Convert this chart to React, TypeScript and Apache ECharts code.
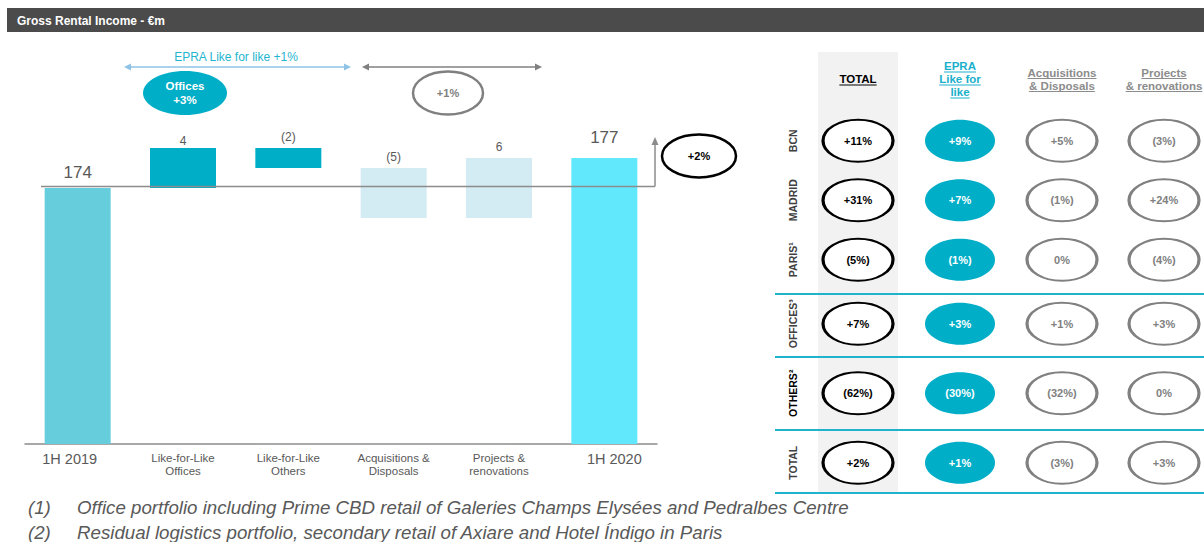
import React, { useEffect, useRef } from 'react';
import * as echarts from 'echarts';

const FONT = '"Liberation Sans", Arial, Helvetica, sans-serif';

// ---------- Waterfall data (€m) ----------
const categories = [
  '1H 2019',
  'Like-for-Like\nOffices',
  'Like-for-Like\nOthers',
  'Acquisitions &\nDisposals',
  'Projects &\nrenovations',
  '1H 2020',
];
const totals: (number | null)[] = [174, null, null, null, null, 177];
const changes: (number | null)[] = [null, 4, -2, -5, 6, null];

// ---------- Annotations ----------
const epraLflText = 'EPRA Like for like +1%';
const officesLflGrowth = 3;
const nonLflGrowth = 1;
const totalChangePct = 2;

// ---------- Table data (%) ----------
const tableColumns = ['TOTAL', 'EPRA\nLike for\nlike', 'Acquisitions\n& Disposals', 'Projects\n& renovations'];
const cityRows = ['BCN', 'MADRID', 'PARIS¹'];
const summaryRows = ['OFFICES³', 'OTHERS²', 'TOTAL'];
const totalGrowth = [11, 31, -5, 7, -62, 2];
const epraGrowth = [9, 7, -1, 3, -30, 1];
const acqGrowth = [5, -1, 0, 1, -32, -3];
const projGrowth = [-3, 24, -4, 3, 0, 3];

const footnotes = [
  ['(1)', 'Office portfolio including Prime CBD retail of Galeries Champs Elysées and Pedralbes Centre'],
  ['(2)', 'Residual logistics portfolio, secondary retail of Axiare and Hotel Índigo in Paris'],
];

// ---------- helpers ----------
const fmtPct = (v: number) => (v > 0 ? `+${v}%` : v < 0 ? `(${-v}%)` : '0%');
const fmtDelta = (v: number) => (v < 0 ? `(${-v})` : `${v}`);
const ELLIPSE =
  'path://M0,50 C0,22.4 22.4,0 50,0 C77.6,0 100,22.4 100,50 C100,77.6 77.6,100 50,100 C22.4,100 0,77.6 0,50 Z';

const totalColors = ['#66cddc', '', '', '', '', '#62e8fd'];
const totalLabelGap = [7, 0, 0, 0, 0, 12];
const deltaColors = ['', '#00aec7', '#00aec7', '#d3ebf2', '#d3ebf2', ''];
const headerColors = ['#000000', '#1ab0cc', '#8c8c8c', '#8c8c8c'];
const colStyles = [
  { fill: '#ffffff', stroke: '#000000', text: '#000000', w: 70, h: 42, bw: 2.5 },
  { fill: '#00aec7', stroke: '#00aec7', text: '#ffffff', w: 70, h: 42, bw: 0 },
  { fill: '#ffffff', stroke: '#808080', text: '#808080', w: 70, h: 42, bw: 2.5 },
  { fill: '#ffffff', stroke: '#808080', text: '#808080', w: 70, h: 42, bw: 2.5 },
];

function buildOption() {
  const base: any[] = [];
  const delta: any[] = [];
  const tot: any[] = [];
  let running = 0;
  categories.forEach((_, i) => {
    const t = totals[i];
    if (t != null) {
      running = t;
      base.push('-');
      delta.push('-');
      tot.push({ value: t, itemStyle: { color: totalColors[i] }, label: { distance: totalLabelGap[i] } });
    } else {
      const c = changes[i] as number;
      const start = running;
      running += c;
      base.push(Math.min(start, running));
      delta.push({
        value: Math.abs(c),
        itemStyle: { color: deltaColors[i] },
        label: i === 1 ? { distance: 1 } : undefined,
      });
      tot.push('-');
    }
  });

  const tableSeries: any[] = [];
  const colsData = [totalGrowth, epraGrowth, acqGrowth, projGrowth];
  [0, 1].forEach((g) => {
    const off = g * 3;
    colsData.forEach((arr, c) => {
      const s = colStyles[c];
      tableSeries.push({
        type: 'scatter',
        xAxisIndex: g + 1,
        yAxisIndex: g + 1,
        symbol: ELLIPSE,
        symbolSize: [s.w, s.h],
        itemStyle: { color: s.fill, borderColor: s.stroke, borderWidth: s.bw, opacity: 1 },
        label: {
          show: true,
          position: 'inside',
          color: s.text,
          fontSize: 11,
          fontWeight: 'bold',
          fontFamily: FONT,
          formatter: (p: any) => fmtPct(p.value[2]),
        },
        emphasis: { disabled: true },
        silent: true,
        z: 5,
        data: [0, 1, 2].map((r) => [c, r, arr[off + r]]),
      });
    });
  });

  const rowAxis = (gi: number, rows: string[]) => ({
    gridIndex: gi,
    type: 'category',
    inverse: true,
    data: rows.map((r) => ({
      value: r,
      textStyle: { color: r === 'OTHERS²' ? '#000000' : '#404040' },
    })),
    axisLine: { show: false },
    axisTick: { show: false },
    splitLine: { show: false },
    axisLabel: {
      rotate: 90,
      margin: 9,
      fontSize: 10.5,
      fontWeight: 'bold',
      fontFamily: FONT,
      interval: 0,
    },
  });

  return {
    animation: false,
    textStyle: { fontFamily: FONT },
    grid: [
      { left: 25, top: 128, width: 632, height: 316, outerBoundsMode: 'none', containLabel: false },
      { left: 807, top: 111, width: 408, height: 178.5, outerBoundsMode: 'none', containLabel: false },
      { left: 807, top: 289, width: 408, height: 208.5, outerBoundsMode: 'none', containLabel: false },
    ],
    xAxis: [
      {
        gridIndex: 0,
        type: 'category',
        data: categories,
        axisLine: { show: true, lineStyle: { color: '#8c8c8c', width: 1.5 } },
        axisTick: { show: false },
        axisLabel: {
          interval: 0,
          margin: 7,
          formatter: (v: string, i: number) =>
            totals[i] != null
              ? `{t${i === 0 ? 'a' : 'b'}|${v}}`
              : v
                  .split('\n')
                  .map((s) => `{c|${s}}`)
                  .join('\n'),
          rich: {
            ta: { fontSize: 14.5, color: '#595959', lineHeight: 16, fontFamily: FONT, padding: [0, 16, 0, 0] },
            tb: { fontSize: 14.5, color: '#595959', lineHeight: 16, fontFamily: FONT, padding: [0, 0, 0, 20] },
            c: { fontSize: 11.5, color: '#595959', lineHeight: 13, fontFamily: FONT },
          },
        },
      },
      {
        gridIndex: 1,
        type: 'category',
        position: 'top',
        data: tableColumns,
        axisLine: { show: false },
        axisTick: { show: false },
        splitLine: { show: false },
        axisLabel: { show: false },
      },
      { gridIndex: 2, type: 'category', data: tableColumns, show: false },
    ],
    yAxis: [
      { gridIndex: 0, type: 'value', min: 148.4, max: 180, show: false, splitLine: { show: false } },
      rowAxis(1, cityRows),
      rowAxis(2, summaryRows),
    ],
    series: [
      {
        type: 'bar',
        stack: 'wf',
        barWidth: 66,
        silent: true,
        itemStyle: { color: 'rgba(0,0,0,0)' },
        emphasis: { disabled: true },
        data: base,
      },
      {
        type: 'bar',
        stack: 'wf',
        barWidth: 66,
        silent: true,
        emphasis: { disabled: true },
        label: {
          show: true,
          position: 'top',
          distance: 5,
          fontSize: 12,
          color: '#595959',
          fontFamily: FONT,
          formatter: (p: any) => fmtDelta(changes[p.dataIndex] as number),
        },
        data: delta,
      },
      {
        type: 'bar',
        stack: 'wf',
        barWidth: 66,
        silent: true,
        emphasis: { disabled: true },
        label: {
          show: true,
          position: 'top',
          distance: 7,
          fontSize: 17,
          color: '#595959',
          fontFamily: FONT,
        },
        data: tot,
      },
      ...tableSeries,
    ],
  };
}

function buildGraphics(chart: any) {
  const g: any[] = [];
  const ctx = document.createElement('canvas').getContext('2d') as CanvasRenderingContext2D;

  // header band
  g.push({ type: 'rect', z: 1, shape: { x: 7, y: 8, width: 1197, height: 24 }, style: { fill: '#4b4b4b' } });
  g.push({
    type: 'text', z: 2, x: 17, y: 20.5,
    style: { text: 'Gross Rental Income - €m', fill: '#ffffff', fontSize: 12, fontWeight: 'bold', fontFamily: FONT, verticalAlign: 'middle' },
  });

  // TOTAL column band in table
  const col0 = chart.convertToPixel({ xAxisIndex: 1 }, 0) as number;
  g.push({ type: 'rect', z: 0, shape: { x: col0 - 40, y: 52, width: 80, height: 441 }, style: { fill: '#f2f2f2' } });

  // separators
  [294, 357, 430, 493].forEach((y) => {
    g.push({ type: 'line', z: 1, shape: { x1: 775, y1: y, x2: 1204, y2: y }, style: { stroke: '#1fb3cc', lineWidth: 2 } });
  });

  // column headers with underlines
  const HF = 11.5;
  ctx.font = `bold ${HF}px ${FONT}`;
  tableColumns.forEach((col, c) => {
    const cx = chart.convertToPixel({ xAxisIndex: 1 }, c) as number;
    const lines = col.split('\n');
    const n = lines.length;
    lines.forEach((ln, i) => {
      const cy = 79 + (i - (n - 1) / 2) * 13;
      const w = ctx.measureText(ln).width;
      g.push({
        type: 'text', z: 3, x: cx, y: cy,
        style: { text: ln, fill: headerColors[c], fontSize: HF, fontWeight: 'bold', fontFamily: FONT, align: 'center', verticalAlign: 'middle' },
      });
      g.push({
        type: 'line', z: 3,
        shape: { x1: cx - w / 2, y1: cy + 6, x2: cx + w / 2, y2: cy + 6 },
        style: { stroke: headerColors[c], lineWidth: 1 },
      });
    });
  });

  // arrows
  const arrow = (x1: number, x2: number, y: number, color: string) => {
    g.push({ type: 'line', z: 3, shape: { x1: x1 + 3, y1: y, x2: x2 - 3, y2: y }, style: { stroke: color, lineWidth: 1.5 } });
    g.push({ type: 'polygon', z: 3, shape: { points: [[x1, y], [x1 + 7, y - 3.5], [x1 + 7, y + 3.5]] }, style: { fill: color } });
    g.push({ type: 'polygon', z: 3, shape: { points: [[x2, y], [x2 - 7, y - 3.5], [x2 - 7, y + 3.5]] }, style: { fill: color } });
  };
  g.push({
    type: 'text', z: 3, x: 236, y: 57,
    style: { text: epraLflText, fill: '#1fb5cf', fontSize: 12, fontFamily: FONT, align: 'center', verticalAlign: 'middle' },
  });
  arrow(124, 351, 67, '#8fc3e6');
  arrow(362, 542, 67, '#808080');

  // Offices ellipse
  g.push({ type: 'ellipse', z: 3, shape: { cx: 185, cy: 93, rx: 42, ry: 22 }, style: { fill: '#00aec7' } });
  g.push({
    type: 'text', z: 4, x: 185, y: 93,
    style: { text: `Offices\n${fmtPct(officesLflGrowth)}`, fill: '#ffffff', fontSize: 11.5, fontWeight: 'bold', lineHeight: 14, fontFamily: FONT, align: 'center', verticalAlign: 'middle' },
  });
  // +1% ellipse
  g.push({ type: 'ellipse', z: 3, shape: { cx: 448, cy: 93, rx: 35, ry: 21.5 }, style: { fill: '#ffffff', stroke: '#808080', lineWidth: 2.5 } });
  g.push({
    type: 'text', z: 4, x: 448, y: 93,
    style: { text: fmtPct(nonLflGrowth), fill: '#808080', fontSize: 11, fontWeight: 'bold', fontFamily: FONT, align: 'center', verticalAlign: 'middle' },
  });
  // +2% ellipse
  g.push({ type: 'ellipse', z: 3, shape: { cx: 699, cy: 156, rx: 37, ry: 21.5 }, style: { fill: '#ffffff', stroke: '#000000', lineWidth: 2.5 } });
  g.push({
    type: 'text', z: 4, x: 699, y: 156,
    style: { text: fmtPct(totalChangePct), fill: '#000000', fontSize: 11, fontWeight: 'bold', fontFamily: FONT, align: 'center', verticalAlign: 'middle' },
  });

  // reference line at opening level and growth arrow
  const yRef = (chart.convertToPixel({ yAxisIndex: 0 }, totals[0]) as number) - 1.5;
  g.push({ type: 'line', z: 6, shape: { x1: 41, y1: yRef, x2: 655, y2: yRef }, style: { stroke: '#8c8c8c', lineWidth: 1.5 } });
  g.push({ type: 'line', z: 6, shape: { x1: 655, y1: yRef, x2: 655, y2: 143 }, style: { stroke: '#8c8c8c', lineWidth: 1.5 } });
  g.push({ type: 'polygon', z: 6, shape: { points: [[655, 137], [651.5, 145], [658.5, 145]] }, style: { fill: '#8c8c8c' } });

  // footnotes
  footnotes.forEach(([num, txt], i) => {
    const y = 507 + i * 25;
    g.push({ type: 'text', z: 3, x: 28, y, style: { text: num, fill: '#595959', fontSize: 18.7, fontStyle: 'italic', fontFamily: FONT, verticalAlign: 'middle' } });
    g.push({ type: 'text', z: 3, x: 77, y, style: { text: txt, fill: '#595959', fontSize: 18.7, fontStyle: 'italic', fontFamily: FONT, verticalAlign: 'middle' } });
  });

  return g;
}

export default function App() {
  const ref = useRef<HTMLDivElement>(null);
  useEffect(() => {
    const chart = echarts.init(ref.current as HTMLDivElement, null, { renderer: 'svg' });
    chart.setOption(buildOption() as any);
    chart.setOption({ graphic: buildGraphics(chart) } as any);
    return () => chart.dispose();
  }, []);
  return (
    <div
      ref={ref}
      style={{ position: 'absolute', left: 0, top: 0, width: 1204, height: 542, background: '#ffffff' }}
    />
  );
}
